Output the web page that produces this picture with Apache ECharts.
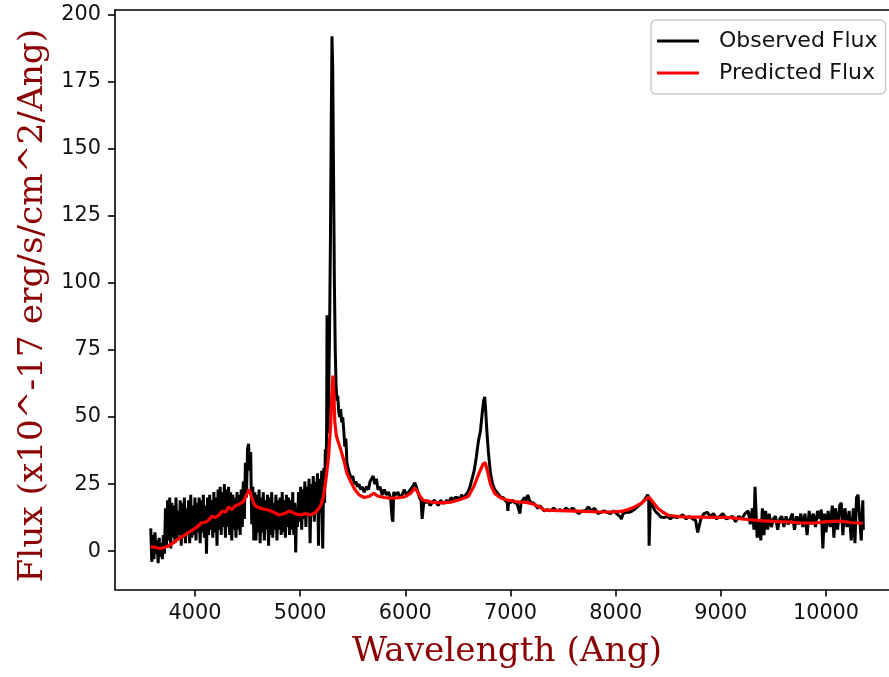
<!DOCTYPE html>
<html>
<head>
<meta charset="utf-8">
<script src="https://cdn.jsdelivr.net/npm/echarts@6/dist/echarts.min.js"></script>
<style>
html,body{margin:0;padding:0;background:#fff;}
#c{width:889px;height:677px;}
</style>
</head>
<body>
<div id="c"></div>
<script>
const xTicks = [4000, 5000, 6000, 7000, 8000, 9000, 10000];
const yTicks = [0, 25, 50, 75, 100, 125, 150, 175, 200];
const seriesNames = ['Observed Flux', 'Predicted Flux'];

const observedFlux = [
[3580,8.5],[3590,-4],[3600,6],[3610,-3],[3620,7],[3630,-1],[3640,4],[3650,-4.5],[3660,5],[3670,-2],[3680,3],[3690,-3],[3700,6],[3710,-1],
[3720,16],[3725,6],[3730,2],[3740,19],[3745,8],[3750,4],[3760,20],[3765,9],[3770,1],[3780,18],[3785,10],[3790,5],[3800,17],[3805,8],[3810,3],[3820,20],[3825,9],[3830,4],[3840,15],[3845,11],[3850,6],[3860,19],[3865,8],[3870,2],[3880,18],[3885,10],[3890,5],[3900,20],[3905,9],[3910,3],[3920,16],[3925,12],[3930,6],[3940,19],[3945,9],[3950,3],[3960,21],[3965,10],[3970,5],[3980,17],[3985,12],[3990,6],[4000,20],[4005,10],[4010,4],[4020,18],[4025,12],[4030,7],[4040,20],[4045,9],[4050,3],[4060,19],[4065,12],[4070,7],[4080,21],[4085,11],[4090,5],[4100,17],[4105,8],[4110,-1],[4120,20],[4125,12],[4130,6],[4140,21],[4145,13],[4150,8],[4160,19],[4165,11],[4170,5],[4180,22],[4185,13],[4190,7],[4200,20],[4205,10],[4210,2],[4220,23],[4225,14],[4230,8],[4240,24],[4245,12],[4250,6],[4260,22],[4265,15],[4270,9],[4280,25],[4285,12],[4290,5],[4300,23],[4305,15],[4310,9],[4320,24],[4325,13],[4330,6],[4340,22],[4345,11],[4350,4],[4360,21],[4365,14],[4370,8],[4380,20],[4385,12],[4390,5],[4400,22],[4405,14],[4410,8],[4420,21],[4425,12],[4430,6],[4440,23],
[4450,9],[4460,26],[4470,12],[4480,33],[4490,20],[4500,38],[4510,40],[4520,30],[4530,37],[4540,10],[4550,24],[4560,4],
[4570,22],[4575,10],[4580,4],[4590,21],[4595,13],[4600,7],[4610,23],[4615,11],[4620,3],[4630,20],[4635,12],[4640,7],[4650,22],[4655,11],[4660,4],[4670,19],[4675,13],[4680,8],[4690,21],[4695,10],[4700,2],[4710,20],[4715,12],[4720,6],[4730,22],[4735,11],[4740,5],[4750,18],[4755,12],[4760,8],[4770,21],[4775,10],[4780,4],[4790,19],[4795,13],[4800,8],[4810,20],[4815,12],[4820,6],[4830,22],[4835,12],[4840,7],[4850,19],[4855,11],[4860,5],[4870,21],[4875,14],[4880,9],[4890,20],[4895,11],[4900,6],[4910,19],[4915,13],[4920,8],[4930,22],[4935,11],[4940,6],[4950,18],[4958,-0.5],[4966,16],
[4975,9],[4985,22],[4995,11],[5005,24],[5015,8],[5025,23],[5035,12],[5045,26],[5055,9],[5065,24],[5075,13],[5085,27],[5095,3],[5105,25],[5115,13],[5125,28],[5135,11],[5145,26],[5155,14],[5165,29],[5175,2],[5185,27],[5195,14],[5205,30],[5215,1],[5225,31],[5232,18],[5240,38],[5247,30],[5252,45],[5256,88],[5260,50],[5266,44],[5272,60],[5280,82],[5288,115],[5296,160],[5303,192],[5310,180],[5318,140],[5326,100],[5334,75],[5342,62],[5350,56],[5358,58],[5367,52],[5376,50],[5385,53],[5395,48],[5405,50],[5415,45],[5425,39],[5435,42],[5445,33],[5455,31],[5470,29],[5485,27],[5500,28],[5515,25],[5530,26],[5545,24],[5560,25],[5575,23],[5590,24],[5610,22],[5630,24],[5650,23],[5665,26],[5680,27],[5695,28],[5710,25],[5725,27],[5740,23],[5760,24],[5780,21],[5800,23],[5820,21],[5840,22],[5860,20],[5875,12],[5882,11],[5890,22],[5910,21],[5930,22],[5950,20],[5970,21],[5990,23],[6010,21],[6030,22],[6050,23],[6070,24],[6090,25.5],[6105,24],[6120,22],[6135,20],[6150,19],[6160,12],[6168,12],[6178,19],
[6195,18],[6215,19],[6235,17],[6255,18],[6275,19],[6295,18],[6315,17],[6335,19],[6355,18],[6375,18],[6395,19],[6415,18],[6435,20],[6455,19],[6475,20],[6495,20],[6515,19],[6535,21],[6555,20],[6575,21],[6595,22],[6615,24],[6635,27],[6655,30],[6675,35],[6695,41],[6715,45],[6730,51],[6745,56],[6755,57.5],[6765,52],[6775,45],[6790,37],[6810,29],[6830,25],[6850,23],[6870,22],[6890,21],[6910,20],[6930,20],[6950,19],[6970,18],[6975,15],[6985,19],[7000,18],[7020,19],[7040,18],[7060,18],[7075,18],[7090,14],[7100,18],[7115,19],[7135,20],[7150,19],[7165,21],[7180,19],[7200,18],[7220,18],[7240,17],[7260,16],[7280,17],[7300,16],[7320,15],[7350,15.5],[7380,15],[7410,16],[7440,15],[7470,15.5],[7500,15],[7530,16],[7560,15],[7590,16],[7620,15],[7650,14],[7680,15],[7710,15],[7740,16.5],[7770,15],[7800,16],[7830,14],[7860,14.5],[7890,15],[7920,14.5],[7950,14],[7980,15],[8010,14],[8040,13],[8055,12],[8070,14],[8100,14.5],[8130,14.5],[8160,15],[8190,16],[8220,17],[8250,18],[8280,19.5],[8305,21],[8314,20],[8318,2],[8326,2.5],[8330,19],[8350,17],[8375,15],[8400,14],[8430,12.7],[8460,12.5],[8490,13],[8520,12],[8550,13],[8580,12.5],[8610,13],[8640,13.5],[8670,12],[8700,13],[8730,12],[8760,11.5],[8780,7],[8795,6.5],[8810,12],[8840,14],[8870,14.5],[8900,13],[8930,14],[8960,12],[8990,13],[9020,14],[9050,12],[9080,12.5],[9110,13],[9140,11],[9170,13],[9200,12],[9230,14],[9260,15],[9280,10],[9300,16],[9315,8],[9325,24],[9335,24.5],[9345,5],[9360,11],[9380,4],[9395,16],[9410,6],[9425,15],[9445,8],[9460,14],[9480,9],[9500,12],[9520,13],[9540,8],[9560,12],[9580,13],[9600,9],[9620,13],[9640,10],[9660,12],[9680,14],[9700,8],[9720,13],[9740,10],[9760,14],[9780,9],[9800,14],[9820,6],[9840,15],[9860,10],[9880,14],[9900,9],[9920,15],[9940,12],[9955,15.5],[9970,1],[9985,14],[10000,7],[10020,15],[10040,9],[10060,17],[10075,5],[10090,16],[10110,8],[10130,17],[10145,18],[10160,6],[10180,16],[10200,9],[10220,15],[10240,4],[10260,16],[10275,3],[10290,20],[10305,21],[10320,12],[10335,4],[10350,19],[10355,8]
];

const predictedFlux = [
[3580,1.5],[3620,1.5],[3660,1],[3700,1.2],[3740,1.8],[3790,3],[3840,4.5],[3900,6],[3960,7.5],[4020,9],[4060,10.5],[4100,10.8],[4130,11.5],[4160,13],[4190,12.5],[4230,13.5],[4260,15],[4290,14.5],[4320,16.5],[4350,15.5],[4380,16.8],[4420,17.5],[4460,18.5],[4490,21],[4515,23],[4540,20],[4570,17],[4620,16],[4680,15.5],[4720,15],[4750,14.5],[4800,13.5],[4850,14],[4900,15],[4950,14],[5000,13.5],[5050,14],[5100,13.5],[5150,14.5],[5195,17],[5220,20],[5245,26.5],[5270,35],[5290,47],[5303,60],[5312,65.5],[5320,60],[5330,48],[5345,43],[5360,41],[5385,38],[5415,34],[5445,29],[5480,26],[5520,23],[5560,21],[5610,20],[5660,20.5],[5700,21.6],[5740,20.5],[5800,20],[5850,19.8],[5900,19.8],[5950,20],[6000,20.3],[6050,21.5],[6090,23.5],[6110,22.5],[6140,20.5],[6170,19],[6250,18.3],[6350,18],[6430,18.3],[6500,19],[6560,19.8],[6600,20.5],[6650,24],[6700,29],[6740,32.5],[6760,33],[6780,30],[6810,25],[6850,21.5],[6900,20],[6970,19],[7050,18.5],[7100,18.3],[7150,18.2],[7220,17.5],[7280,16.5],[7320,15.3],[7400,15.2],[7550,15],[7700,14.8],[7860,14.6],[7950,14.6],[8050,14.8],[8120,15.5],[8180,16.5],[8250,18],[8300,19.8],[8320,20],[8350,18.5],[8400,16],[8450,14.5],[8500,13.4],[8600,12.9],[8700,12.7],[8800,12.7],[8950,12.6],[9064,12.6],[9150,12.2],[9254,11.8],[9400,11.3],[9550,11],[9663,10.8],[9760,10.5],[9900,10.5],[10000,11],[10140,11.2],[10250,10.6],[10350,10.4]
];

const chart = echarts.init(document.getElementById('c'), null, {renderer: 'canvas'});
const tickFont = {fontFamily: 'DejaVu Sans', fontSize: 20.8, color: '#111'};
const nameFont = {fontFamily: 'DejaVu Serif', fontSize: 34.3, color: '#8b0000'};
const spine = {show: true, onZero: false, lineStyle: {color: '#000', width: 1.6}};
const plainNum = v => String(v);
chart.setOption({
  animation: false,
  backgroundColor: '#ffffff',
  grid: {left: 115, top: 10, width: 784, height: 579.5, show: false, containLabel: false, outerBoundsMode: 'none'},
  xAxis: [{
    type: 'value', min: 3240, max: 10694, position: 'bottom',
    axisLine: spine,
    splitLine: {show: false},
    axisTick: {show: true, inside: false, length: 7, lineStyle: {color: '#000', width: 1.6}, customValues: xTicks},
    axisLabel: Object.assign({customValues: xTicks, margin: 14, formatter: plainNum}, tickFont),
    name: 'Wavelength (Ang)', nameLocation: 'middle', nameGap: 46,
    nameTextStyle: nameFont
  }, {
    type: 'value', min: 3240, max: 10694, position: 'top',
    axisLine: spine, axisTick: {show: false}, axisLabel: {show: false}, splitLine: {show: false}
  }],
  yAxis: {
    type: 'value', min: -14.3, max: 201.8,
    axisLine: spine,
    splitLine: {show: false},
    axisTick: {show: true, inside: false, length: 7, lineStyle: {color: '#000', width: 1.6}, customValues: yTicks},
    axisLabel: Object.assign({customValues: yTicks, margin: 14, formatter: plainNum}, tickFont),
    name: 'Flux (x10^-17 erg/s/cm^2/Ang)', nameLocation: 'middle', nameGap: 64,
    nameTextStyle: Object.assign({padding: [0, 12, 0, 0]}, nameFont)
  },
  legend: {
    orient: 'vertical', left: 651, top: 20,
    data: [{name: seriesNames[0], icon: 'rect'}, {name: seriesNames[1], icon: 'rect'}],
    itemWidth: 42, itemHeight: 3, itemGap: 10,
    padding: [10, 8, 10, 6],
    backgroundColor: 'rgba(255,255,255,0.85)',
    borderColor: '#cccccc', borderWidth: 1.5, borderRadius: 5,
    textStyle: {fontFamily: 'DejaVu Sans', fontSize: 22, color: '#111', lineHeight: 21, padding: [0, 0, 0, 15]}
  },
  series: [
    {type: 'line', name: seriesNames[0], data: observedFlux, symbol: 'none', showSymbol: false,
     xAxisIndex: 0, color: '#000000', lineStyle: {color: '#000000', width: 3}, z: 2},
    {type: 'line', name: seriesNames[1], data: predictedFlux, symbol: 'none', showSymbol: false,
     xAxisIndex: 0, color: '#ff0000', lineStyle: {color: '#ff0000', width: 3.2}, z: 3}
  ]
});
</script>
</body>
</html>
